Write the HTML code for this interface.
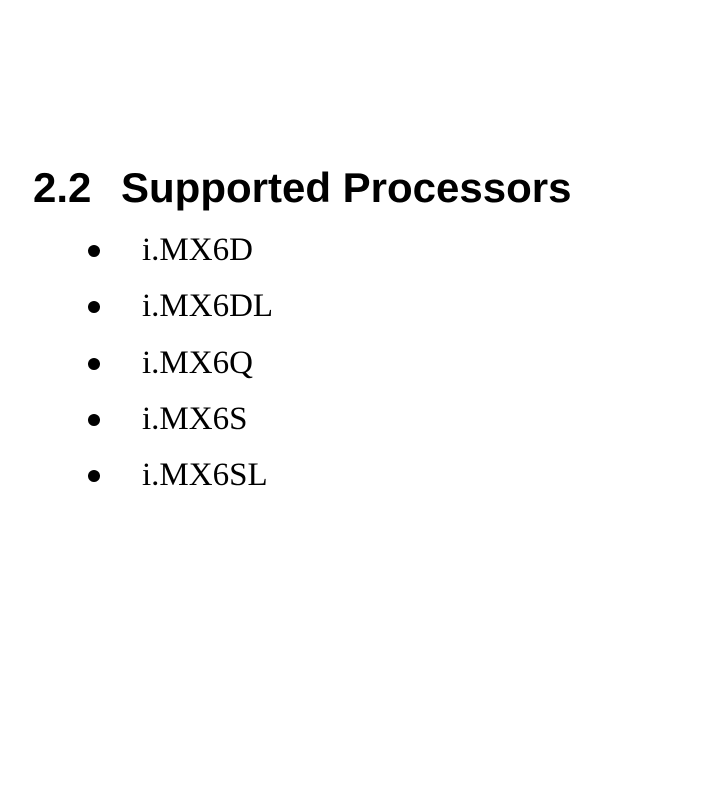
<!DOCTYPE html>
<html><head><meta charset="utf-8"><style>html,body{margin:0;padding:0;background:#fff;width:721px;height:796px;overflow:hidden}</style></head>
<body>
<svg width="721" height="796" xmlns="http://www.w3.org/2000/svg">
<text x="33" y="202" font-family="Liberation Sans, sans-serif" font-weight="bold" font-size="42" fill="#000">2.2</text>
<text x="121" y="202" font-family="Liberation Sans, sans-serif" font-weight="bold" font-size="42" fill="#000">Supported Processors</text>
<g font-family="Liberation Serif, serif" font-size="33" fill="#000">
<circle cx="94" cy="251" r="6"/><text x="142" y="260">i.MX6D</text>
<circle cx="94" cy="307" r="6"/><text x="142" y="316">i.MX6DL</text>
<circle cx="94" cy="364" r="6"/><text x="142" y="373">i.MX6Q</text>
<circle cx="94" cy="420" r="6"/><text x="142" y="429">i.MX6S</text>
<circle cx="94" cy="476" r="6"/><text x="142" y="485">i.MX6SL</text>
</g>
</svg>
</body></html>
